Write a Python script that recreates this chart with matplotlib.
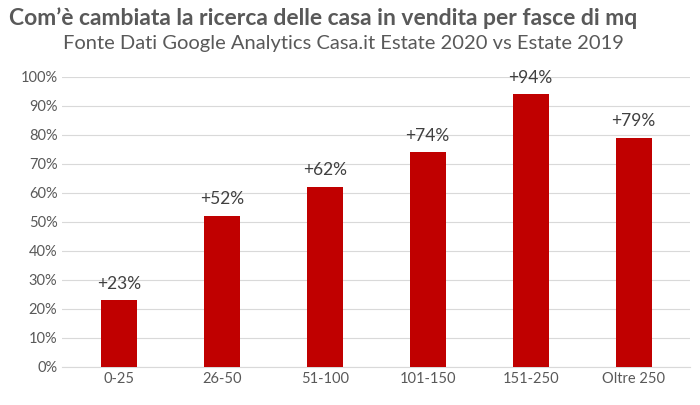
import matplotlib
matplotlib.use('Agg')
import matplotlib.pyplot as plt
from matplotlib.ticker import PercentFormatter

#data
categories = ['0-25', '26-50', '51-100', '101-150', '151-250', 'Oltre 250']
values = [23, 52, 62, 74, 94, 79]
labels = ['+23%', '+52%', '+62%', '+74%', '+94%', '+79%']

plt.rcParams['font.family'] = 'Lato'
fig = plt.figure(figsize=(7, 4.05), dpi=100)
ax = fig.add_axes([0.089, 0.094, 0.897, 0.716])

ax.bar(range(len(categories)), values, width=0.35, color='#C00000', zorder=3)
for i, (v, lab) in enumerate(zip(values, labels)):
    ax.text(i, v + 3, lab, ha='center', va='bottom', fontsize=12.5, color='#404040')

ax.set_ylim(0, 100)
ax.set_yticks(range(0, 101, 10))
ax.yaxis.set_major_formatter(PercentFormatter(decimals=0))
ax.set_xticks(range(len(categories)))
ax.set_xticklabels(categories)
ax.set_xlim(-0.55, len(categories) - 0.45)
ax.grid(axis='y', color='#d9d9d9', linewidth=0.8, zorder=0)
for s in ['top', 'right', 'left']:
    ax.spines[s].set_visible(False)
ax.spines['bottom'].set_color('#d9d9d9')
ax.tick_params(length=0, labelsize=10.5, colors='#595959')

fig.text(0.013, 0.955, "Com’è cambiata la ricerca delle casa in vendita per fasce di mq",
         fontsize=16.5, fontweight='bold', color='#595959', va='center')
fig.text(0.09, 0.893, "Fonte Dati Google Analytics Casa.it Estate 2020 vs Estate 2019",
         fontsize=14.5, color='#595959', va='center')

fig.savefig('out.png', dpi=100)
